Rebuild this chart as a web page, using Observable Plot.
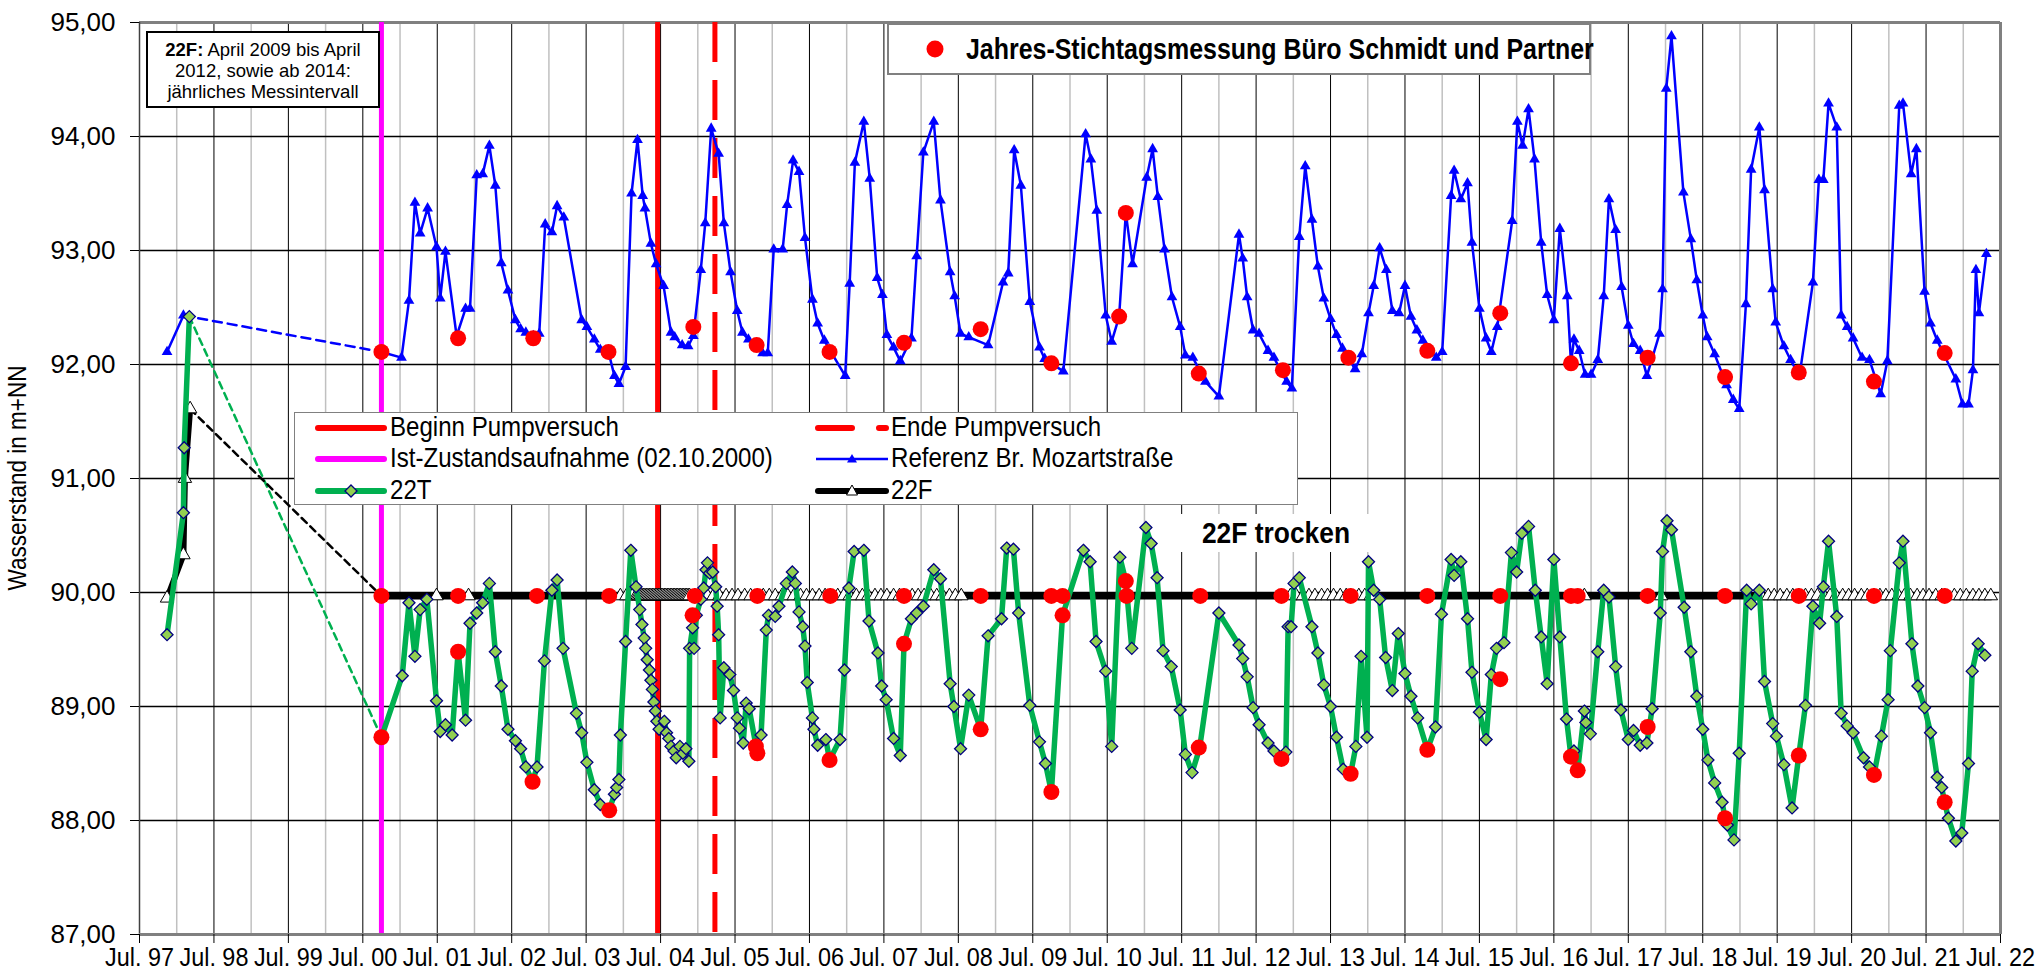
<!DOCTYPE html>
<html><head><meta charset="utf-8">
<script src="https://cdn.jsdelivr.net/npm/d3@7"></script>
<script src="https://cdn.jsdelivr.net/npm/@observablehq/plot@0.6"></script>
<style>
body{margin:0;background:#fff;}
#wrap{position:relative;width:2036px;height:976px;font-family:"Liberation Sans",Arial,sans-serif;color:#000;overflow:hidden;}
.box{position:absolute;background:#fff;box-sizing:border-box;}
.lg{position:absolute;font-size:28px;line-height:28px;white-space:nowrap;transform:scaleX(0.86);transform-origin:0 50%;}
.sw{position:absolute;}
</style></head><body><div id="wrap"></div>
<script>
// ---------- tick labels ----------
const xTickLabels = ["Jul. 97","Jul. 98","Jul. 99","Jul. 00","Jul. 01","Jul. 02","Jul. 03","Jul. 04","Jul. 05","Jul. 06","Jul. 07","Jul. 08","Jul. 09","Jul. 10","Jul. 11","Jul. 12","Jul. 13","Jul. 14","Jul. 15","Jul. 16","Jul. 17","Jul. 18","Jul. 19","Jul. 20","Jul. 21","Jul. 22"];
const yTicks = [87, 88, 89, 90, 91, 92, 93, 94, 95];
const yTickLabels = ["87,00","88,00","89,00","90,00","91,00","92,00","93,00","94,00","95,00"];

// ---------- event dates (decimal years) ----------
const istZustandT = 2000.75;   // 02.10.2000
const pumpStartT = 2004.46;
const pumpEndT = 2005.23;

// ---------- Referenz Br. Mozartstraße (blue) ----------
const refEarlyT = [1997.87, 1998.09];
const refEarlyV = [92.11, 92.43];
const refT = [2000.75,2001.02,2001.12,2001.20,2001.27,2001.37,2001.49,2001.54,2001.61,2001.76,2001.88,2001.94,2002.03,2002.11,2002.20,2002.28,2002.36,2002.45,2002.55,2002.62,2002.69,2002.79,2002.87,2002.95,2003.04,2003.11,2003.20,2003.44,2003.51,2003.61,2003.69,2003.80,2003.88,2003.94,2004.03,2004.11,2004.19,2004.26,2004.29,2004.37,2004.44,2004.54,2004.64,2004.69,2004.79,2004.87,2004.94,2005.04,2005.10,2005.18,2005.28,2005.35,2005.44,2005.53,2005.60,2005.68,2005.79,2005.87,2005.94,2006.02,2006.14,2006.20,2006.28,2006.36,2006.44,2006.54,2006.61,2006.70,2006.98,2007.04,2007.11,2007.23,2007.31,2007.41,2007.48,2007.54,2007.63,2007.72,2007.87,2007.94,2008.03,2008.17,2008.26,2008.39,2008.45,2008.53,2008.64,2008.90,2009.10,2009.17,2009.25,2009.34,2009.46,2009.59,2009.66,2009.91,2010.21,2010.28,2010.36,2010.48,2010.56,2010.66,2010.75,2010.84,2011.03,2011.11,2011.18,2011.27,2011.37,2011.48,2011.55,2011.65,2011.82,2012.00,2012.27,2012.32,2012.38,2012.46,2012.54,2012.66,2012.74,2012.91,2012.98,2013.08,2013.16,2013.25,2013.33,2013.41,2013.50,2013.58,2013.66,2013.83,2013.92,2014.01,2014.08,2014.16,2014.25,2014.33,2014.42,2014.50,2014.58,2014.66,2014.74,2014.92,2015.00,2015.12,2015.16,2015.25,2015.34,2015.40,2015.50,2015.59,2015.66,2015.74,2015.94,2016.01,2016.08,2016.16,2016.24,2016.33,2016.41,2016.50,2016.58,2016.68,2016.73,2016.77,2016.84,2016.92,2017.00,2017.09,2017.17,2017.24,2017.33,2017.41,2017.50,2017.57,2017.66,2017.75,2017.92,2017.96,2018.01,2018.08,2018.24,2018.34,2018.42,2018.50,2018.56,2018.66,2018.82,2018.91,2018.99,2019.08,2019.15,2019.26,2019.33,2019.44,2019.48,2019.59,2019.68,2019.80,2019.98,2020.06,2020.12,2020.19,2020.30,2020.36,2020.44,2020.52,2020.64,2020.74,2020.89,2020.98,2021.14,2021.19,2021.30,2021.37,2021.48,2021.56,2021.65,2021.90,2021.99,2022.07,2022.13,2022.17,2022.21,2022.31];
const refV = [92.11,92.06,92.56,93.42,93.15,93.37,93.03,92.58,92.99,92.25,92.49,92.49,93.66,93.67,93.92,93.57,92.89,92.65,92.39,92.31,92.28,92.25,92.27,93.23,93.16,93.39,93.29,92.39,92.33,92.22,92.13,92.11,91.90,91.83,91.98,93.50,93.97,93.48,93.37,93.06,92.88,92.69,92.28,92.24,92.17,92.16,92.25,92.83,93.24,94.07,93.85,93.24,92.81,92.47,92.28,92.22,92.15,92.10,92.10,93.01,93.01,93.40,93.79,93.69,93.11,92.57,92.36,92.21,91.90,92.71,93.77,94.13,93.63,92.76,92.61,92.26,92.15,92.03,92.23,92.95,93.86,94.13,93.44,92.81,92.60,92.27,92.24,92.17,92.72,92.80,93.88,93.57,92.55,92.15,92.05,91.94,94.02,93.80,93.35,92.43,92.20,92.42,93.33,92.88,93.64,93.89,93.47,93.01,92.59,92.33,92.08,92.06,91.85,91.72,93.14,92.93,92.59,92.30,92.27,92.12,92.06,91.85,91.79,93.12,93.74,93.27,92.86,92.58,92.40,92.26,92.14,91.96,92.09,92.45,92.69,93.02,92.83,92.47,92.45,92.69,92.42,92.30,92.21,92.06,92.11,93.48,93.70,93.45,93.59,93.07,92.49,92.23,92.11,92.33,93.26,94.13,93.92,94.24,93.80,93.07,92.61,92.39,93.19,92.60,92.01,92.22,92.12,91.91,91.91,92.04,92.60,93.45,93.18,92.68,92.34,92.18,92.12,91.90,92.27,92.66,94.42,94.88,93.51,93.10,92.74,92.43,92.24,92.09,91.82,91.69,91.61,92.53,93.71,94.08,93.53,92.66,92.37,92.16,92.04,91.90,92.72,93.62,93.62,94.29,94.08,92.43,92.33,92.23,92.06,92.04,91.74,92.03,94.27,94.29,93.67,93.89,92.64,92.36,92.21,91.87,91.65,91.65,91.95,92.83,92.45,92.97];

// ---------- 22T (green) ----------
const t22EarlyT = [1997.87, 1998.09, 1998.10, 1998.17];
const t22EarlyV = [89.63, 90.70, 91.27, 92.42];
const t22T = [2000.75,2001.03,2001.12,2001.20,2001.27,2001.36,2001.49,2001.54,2001.61,2001.70,2001.78,2001.88,2001.94,2002.03,2002.11,2002.20,2002.28,2002.36,2002.45,2002.55,2002.62,2002.69,2002.78,2002.84,2002.94,2003.04,2003.11,2003.19,2003.37,2003.44,2003.51,2003.61,2003.69,2003.81,2003.88,2003.91,2003.94,2003.96,2004.03,2004.10,2004.17,2004.22,2004.25,2004.28,2004.30,2004.32,2004.35,2004.37,2004.39,2004.41,2004.43,2004.45,2004.48,2004.55,2004.58,2004.61,2004.64,2004.68,2004.71,2004.76,2004.80,2004.84,2004.88,2004.89,2004.93,2004.95,2004.98,2005.04,2005.08,2005.11,2005.13,2005.16,2005.20,2005.24,2005.26,2005.28,2005.30,2005.35,2005.43,2005.48,2005.53,2005.56,2005.61,2005.65,2005.69,2005.78,2005.85,2005.92,2005.95,2006.04,2006.09,2006.19,2006.27,2006.31,2006.36,2006.41,2006.44,2006.47,2006.54,2006.56,2006.61,2006.72,2006.77,2006.91,2006.97,2007.03,2007.10,2007.23,2007.30,2007.42,2007.47,2007.53,2007.63,2007.72,2007.77,2007.87,2007.94,2008.03,2008.17,2008.26,2008.39,2008.44,2008.53,2008.64,2008.80,2008.90,2009.08,2009.15,2009.24,2009.31,2009.46,2009.59,2009.67,2009.75,2009.90,2010.18,2010.27,2010.35,2010.48,2010.56,2010.67,2010.75,2010.83,2011.02,2011.09,2011.17,2011.25,2011.36,2011.48,2011.55,2011.64,2011.74,2012.00,2012.27,2012.32,2012.38,2012.46,2012.54,2012.66,2012.74,2012.84,2012.90,2012.93,2012.97,2013.01,2013.08,2013.25,2013.33,2013.41,2013.50,2013.58,2013.67,2013.77,2013.84,2013.91,2013.99,2014.01,2014.08,2014.16,2014.24,2014.33,2014.41,2014.50,2014.58,2014.67,2014.80,2014.91,2014.99,2015.12,2015.16,2015.25,2015.34,2015.40,2015.50,2015.59,2015.66,2015.73,2015.83,2015.93,2016.00,2016.07,2016.16,2016.25,2016.33,2016.41,2016.50,2016.58,2016.67,2016.73,2016.77,2016.82,2016.91,2016.93,2016.99,2017.09,2017.17,2017.24,2017.33,2017.40,2017.50,2017.57,2017.66,2017.75,2017.82,2017.93,2017.96,2018.02,2018.08,2018.25,2018.34,2018.42,2018.50,2018.57,2018.66,2018.76,2018.80,2018.83,2018.92,2018.99,2019.09,2019.15,2019.26,2019.33,2019.44,2019.49,2019.59,2019.70,2019.79,2019.88,2019.98,2020.07,2020.12,2020.19,2020.30,2020.36,2020.44,2020.52,2020.66,2020.74,2020.80,2020.90,2020.99,2021.02,2021.14,2021.19,2021.31,2021.39,2021.48,2021.56,2021.65,2021.71,2021.75,2021.80,2021.90,2021.98,2022.07,2022.12,2022.20,2022.29];
const t22V = [88.73,89.27,89.91,89.44,89.85,89.94,89.05,88.78,88.84,88.75,89.48,88.88,89.73,89.82,89.91,90.08,89.48,89.18,88.80,88.70,88.63,88.47,88.34,88.47,89.40,90.02,90.11,89.51,88.94,88.77,88.51,88.27,88.14,88.09,88.23,88.29,88.36,88.75,89.57,90.37,90.05,89.85,89.72,89.60,89.51,89.41,89.32,89.23,89.15,89.04,88.96,88.87,88.80,88.87,88.77,88.72,88.65,88.61,88.55,88.65,88.59,88.63,88.52,89.51,89.69,89.51,89.80,89.94,90.04,90.20,90.26,90.17,90.18,90.05,89.88,89.63,88.90,89.34,89.28,89.14,88.90,88.81,88.68,89.03,88.98,88.66,88.75,89.67,89.80,89.79,89.88,90.08,90.18,90.08,89.83,89.70,89.53,89.21,88.90,88.80,88.66,88.71,88.53,88.71,89.32,90.04,90.36,90.37,89.75,89.47,89.18,89.06,88.72,88.57,89.55,89.77,89.82,89.88,90.20,90.12,89.20,89.00,88.63,89.10,88.80,89.62,89.77,90.39,90.38,89.82,89.01,88.69,88.50,88.25,89.80,90.37,90.27,89.57,89.31,88.65,90.31,90.10,89.51,90.57,90.43,90.13,89.49,89.35,88.97,88.58,88.42,88.63,89.82,89.54,89.42,89.26,88.99,88.84,88.68,88.61,88.54,88.60,89.70,89.70,90.08,90.13,89.70,89.47,89.19,89.00,88.73,88.45,88.41,88.65,89.44,88.73,90.27,90.02,89.94,89.43,89.14,89.64,89.29,89.09,88.90,88.62,88.82,89.81,90.29,90.15,90.27,89.77,89.30,88.95,88.71,89.28,89.51,89.56,90.35,90.18,90.52,90.58,90.02,89.61,89.20,90.29,89.61,88.89,88.56,88.61,88.44,88.96,88.86,88.76,89.48,90.02,89.96,89.35,88.97,88.71,88.79,88.66,88.68,88.98,89.82,90.36,90.63,90.55,89.87,89.48,89.09,88.80,88.53,88.33,88.16,88.02,87.96,87.83,88.59,90.02,89.90,90.02,89.22,88.85,88.74,88.49,88.11,88.57,89.01,89.88,89.73,90.05,90.45,89.79,88.94,88.83,88.77,88.55,88.47,88.40,88.74,89.06,89.49,90.26,90.45,89.55,89.18,88.99,88.77,88.38,88.29,88.16,88.02,87.82,87.89,88.50,89.31,89.55,89.45];

// ---------- 22F (black) ----------
const f22EarlyT = [1997.87, 1998.09, 1998.11, 1998.18];
const f22EarlyV = [89.95, 90.33, 91.00, 91.61];
const f22TrockenLevel = 89.97;   // "22F trocken"
const f22DryT = [2000.75,2001.49,2001.92,2003.81,2003.96,2004.04,2004.12,2004.17,2004.19,2004.21,2004.23,2004.25,2004.27,2004.29,2004.31,2004.33,2004.35,2004.37,2004.39,2004.41,2004.43,2004.45,2004.47,2004.49,2004.51,2004.53,2004.55,2004.57,2004.59,2004.61,2004.63,2004.65,2004.67,2004.69,2004.71,2004.73,2004.75,2004.77,2004.79,2004.81,2004.83,2004.85,2004.87,2004.89,2004.96,2005.04,2005.13,2005.21,2005.29,2005.38,2005.46,2005.54,2005.63,2005.71,2005.80,2005.88,2005.96,2006.04,2006.13,2006.21,2006.29,2006.38,2006.46,2006.54,2006.63,2006.71,2006.78,2006.88,2006.96,2007.04,2007.13,2007.21,2007.29,2007.38,2007.46,2007.54,2007.63,2007.71,2007.77,2007.88,2007.96,2008.04,2008.13,2008.21,2008.29,2008.38,2008.46,2008.54,2008.80,2009.75,2009.90,2010.76,2011.75,2012.84,2012.96,2013.04,2013.13,2013.21,2013.29,2013.38,2013.46,2013.54,2013.63,2013.71,2013.77,2013.88,2013.96,2014.04,2014.80,2015.78,2016.73,2016.82,2016.91,2017.76,2017.94,2018.80,2019.29,2019.38,2019.46,2019.54,2019.63,2019.71,2019.79,2019.88,2019.96,2020.04,2020.13,2020.21,2020.29,2020.38,2020.46,2020.54,2020.63,2020.71,2020.80,2020.88,2020.96,2021.04,2021.13,2021.21,2021.29,2021.38,2021.46,2021.54,2021.63,2021.71,2021.75,2021.88,2021.96,2022.04,2022.13,2022.21,2022.29,2022.37];
// triangles hidden under the red Stichtag dots
const f22MarkerHiddenT = [2008.80,2009.75,2009.90,2010.76,2011.75,2012.84,2014.80,2015.78,2016.73,2016.82,2017.76,2018.80,2000.75,2003.81];

// ---------- Jahres-Stichtagsmessung Büro Schmidt und Partner (red dots) ----------
const stichRefT = [2000.75,2001.78,2002.79,2003.80,2004.94,2005.79,2006.77,2007.77,2008.80,2009.75,2010.66,2010.75,2011.73,2012.86,2013.74,2014.80,2015.78,2016.73,2017.76,2018.80,2019.79,2020.80,2021.75];
const stichRefV = [92.11,92.23,92.23,92.11,92.33,92.17,92.11,92.19,92.31,92.01,92.42,93.33,91.92,91.95,92.06,92.12,92.45,92.01,92.06,91.89,91.93,91.85,92.10];
const stich22FT = [2000.75,2001.78,2002.84,2003.81,2004.96,2005.80,2006.78,2007.77,2008.80,2009.75,2009.90,2010.76,2011.75,2012.84,2013.77,2014.80,2015.78,2016.73,2016.82,2017.76,2018.80,2019.79,2020.80,2021.75];
const stich22TT = [2000.75,2001.78,2002.78,2003.81,2004.93,2005.78,2005.80,2006.77,2007.77,2008.80,2009.75,2009.90,2010.75,2011.73,2012.84,2013.77,2014.80,2015.78,2016.73,2016.82,2017.76,2018.80,2019.79,2020.80,2021.75];
const stich22TV = [88.73,89.48,88.34,88.09,89.80,88.65,88.59,88.53,89.55,88.80,88.25,89.80,90.10,88.64,88.54,88.41,88.62,89.24,88.56,88.44,88.82,88.02,88.57,88.40,88.16];

// ---------- build tables ----------
const pts = (T, V) => T.map((t, i) => ({t, v: V[i]}));
const refEarly = pts(refEarlyT, refEarlyV);
const ref = pts(refT, refV);
const t22Early = pts(t22EarlyT, t22EarlyV);
const t22 = pts(t22T, t22V);
const f22Early = pts(f22EarlyT, f22EarlyV);
const f22Dry = f22DryT.map(t => ({t, v: f22TrockenLevel}));
const f22Markers = f22Dry.filter(d => !f22MarkerHiddenT.includes(d.t));
const refGap = [refEarly[refEarly.length - 1], ref[0]];
const t22Gap = [t22Early[t22Early.length - 1], t22[0]];
const f22Gap = [f22Early[f22Early.length - 1], f22Dry[0]];
const stich = [
  ...pts(stichRefT, stichRefV),
  ...stich22FT.map(t => ({t, v: f22TrockenLevel})),
  ...pts(stich22TT, stich22TV)
];

const julTicks = xTickLabels.map((_, i) => 1997.5 + i);
const janTicks = julTicks.slice(0, -1).map(d => d + 0.5);

const BLUE = "#0000ff", GREEN = "#00b050", DIA = "#92d050", NAVY = "#000080";
const FONT = "'Liberation Sans', Arial, sans-serif";

const chart = Plot.plot({
  width: 2036, height: 976,
  marginLeft: 139, marginRight: 36, marginTop: 22, marginBottom: 42,
  x: {type: "linear", domain: [1997.5, 2022.5], label: null},
  y: {domain: [87, 95], label: null},
  style: {fontFamily: FONT, color: "#000", background: "#fff", overflow: "visible"},
  marks: [
    Plot.ruleX(janTicks, {stroke: "#c0c0c0", strokeWidth: 1.5}),
    Plot.ruleX(julTicks.slice(1, -1), {stroke: "#000", strokeWidth: 1}),
    Plot.ruleY(yTicks.slice(1, -1), {stroke: "#000", strokeWidth: 1.3}),
    Plot.ruleY([95], {stroke: "#808080", strokeWidth: 3}),
    Plot.ruleX([2022.5], {stroke: "#808080", strokeWidth: 3}),
    Plot.ruleX([1997.5], {stroke: "#404040", strokeWidth: 1.5}),
    // events
    Plot.ruleX([istZustandT], {stroke: "#ff00ff", strokeWidth: 5}),
    Plot.ruleX([pumpStartT], {stroke: "#ff0000", strokeWidth: 5}),
    Plot.ruleX([pumpEndT], {stroke: "#ff0000", strokeWidth: 5, strokeDasharray: "40,18"}),
    // Referenz
    Plot.line(refGap, {x: "t", y: "v", stroke: BLUE, strokeWidth: 2.5, strokeDasharray: "9,6"}),
    Plot.line(refEarly, {x: "t", y: "v", stroke: BLUE, strokeWidth: 2.5}),
    Plot.line(ref, {x: "t", y: "v", stroke: BLUE, strokeWidth: 2.5}),
    Plot.dot(refEarly.concat(ref), {x: "t", y: "v", symbol: "triangle", fill: BLUE, r: 4}),
    // connectors
    Plot.line(t22Gap, {x: "t", y: "v", stroke: GREEN, strokeWidth: 2.5, strokeDasharray: "7,5"}),
    Plot.line(f22Gap, {x: "t", y: "v", stroke: "#000", strokeWidth: 2.5, strokeDasharray: "7,5"}),
    // 22F
    Plot.line(f22Early, {x: "t", y: "v", stroke: "#000", strokeWidth: 6}),
    Plot.line(f22Dry, {x: "t", y: "v", stroke: "#000", strokeWidth: 7}),
    Plot.dot(f22Early.concat(f22Markers), {x: "t", y: "v", symbol: "triangle", fill: "#fff", stroke: "#000", strokeWidth: 1, r: 5}),
    // 22T
    Plot.line(t22Early, {x: "t", y: "v", stroke: GREEN, strokeWidth: 5.5}),
    Plot.line(t22, {x: "t", y: "v", stroke: GREEN, strokeWidth: 5.5}),
    Plot.dot(t22Early.concat(t22), {x: "t", y: "v", symbol: "diamond2", fill: DIA, stroke: NAVY, strokeWidth: 1.3, r: 5.4}),
    // Stichtag
    Plot.dot(stich, {x: "t", y: "v", fill: "#ff0000", r: 8}),
    Plot.ruleY([87], {stroke: "#808080", strokeWidth: 3}),
    // axes
    Plot.axisX({ticks: julTicks, tickFormat: d => xTickLabels[Math.round(d - 1997.5)], tickSize: 9, tickPadding: 4, fontSize: 26, label: null}),
    Plot.axisY({ticks: yTicks, tickFormat: d => yTickLabels[yTicks.indexOf(d)], tickSize: 9, tickPadding: 15, fontSize: 26, label: null})
  ]
});

// condense x tick labels horizontally (the original uses a narrow face)
chart.querySelectorAll("text").forEach(t => {
  if (!xTickLabels.includes(t.textContent)) return;
  const x = t.getAttribute("x");
  let tr = t.getAttribute("transform") || "";
  if (x !== null) { tr = `translate(${x},0) ` + tr; t.removeAttribute("x"); }
  t.setAttribute("transform", tr + " scale(0.9,1)");
});

const wrap = document.getElementById("wrap");
wrap.appendChild(chart);

function add(html) { wrap.insertAdjacentHTML("beforeend", html); }

// y axis title
add(`<div style="position:absolute;left:17px;top:478px;transform:translate(-50%,-50%) rotate(-90deg) scaleX(0.9);font-size:25px;white-space:nowrap;">Wasserstand in m+NN</div>`);

// 22F note box
add(`<div class="box" style="left:146px;top:31px;width:234px;height:77px;border:2.5px solid #000;font-size:18.5px;line-height:21px;text-align:center;padding-top:6px;"><b>22F:</b> April 2009 bis April<br>2012, sowie ab 2014:<br>jährliches Messintervall</div>`);

// "22F trocken" label
add(`<div class="box" style="left:1176px;top:514px;width:200px;height:38px;"><div style="position:absolute;left:100px;top:19px;transform:translate(-50%,-50%) scaleX(0.88);font-size:30px;font-weight:bold;white-space:nowrap;">22F trocken</div></div>`);

// Legend 1
add(`<div class="box" style="left:887px;top:23px;width:704px;height:52px;border:2px solid #808080;">
<svg class="sw" style="left:34px;top:12px" width="24" height="24"><circle cx="12" cy="12" r="8.5" fill="#ff0000"/></svg>
<div class="lg" style="left:77px;top:9px;font-weight:bold;font-size:29px;line-height:30px;">Jahres-Stichtagsmessung Büro Schmidt und Partner</div></div>`);

// Legend 2
const rows = [427, 458, 490];
const L = 294, T = 412;
function sw(x, y, inner) { return `<svg class="sw" style="left:${x - L - 1}px;top:${y - T - 16}px" width="80" height="32">${inner}</svg>`; }
function lg(x, y, text) { return `<div class="lg" style="left:${x - L - 1}px;top:${y - T - 15}px;">${text}</div>`; }
add(`<div class="box" style="left:${L}px;top:${T}px;width:1004px;height:93px;border:1.5px solid #808080;">
${sw(314, rows[0], `<line x1="4" y1="16" x2="70" y2="16" stroke="#ff0000" stroke-width="6" stroke-linecap="round"/>`)}
${lg(390, rows[0], "Beginn Pumpversuch")}
${sw(814, rows[0], `<line x1="4" y1="16" x2="72" y2="16" stroke="#ff0000" stroke-width="6" stroke-linecap="round" stroke-dasharray="34,27"/>`)}
${lg(891, rows[0], "Ende Pumpversuch")}
${sw(314, rows[1], `<line x1="4" y1="16" x2="70" y2="16" stroke="#ff00ff" stroke-width="6" stroke-linecap="round"/>`)}
${lg(390, rows[1], "Ist-Zustandsaufnahme (02.10.2000)")}
${sw(814, rows[1], `<line x1="2" y1="16" x2="74" y2="16" stroke="${BLUE}" stroke-width="2.5"/><path d="M38,11 L43,19.5 L33,19.5 Z" fill="${BLUE}"/>`)}
${lg(891, rows[1], "Referenz Br. Mozartstraße")}
${sw(314, rows[2], `<line x1="4" y1="16" x2="70" y2="16" stroke="${GREEN}" stroke-width="6" stroke-linecap="round"/><path d="M37,10 L43,16 L37,22 L31,16 Z" fill="${DIA}" stroke="${NAVY}" stroke-width="1.3"/>`)}
${lg(390, rows[2], "22T")}
${sw(814, rows[2], `<line x1="4" y1="16" x2="72" y2="16" stroke="#000" stroke-width="6" stroke-linecap="round"/><path d="M38,10 L43.5,20 L32.5,20 Z" fill="#fff" stroke="#000" stroke-width="1"/>`)}
${lg(891, rows[2], "22F")}
</div>`);
</script></body></html>
